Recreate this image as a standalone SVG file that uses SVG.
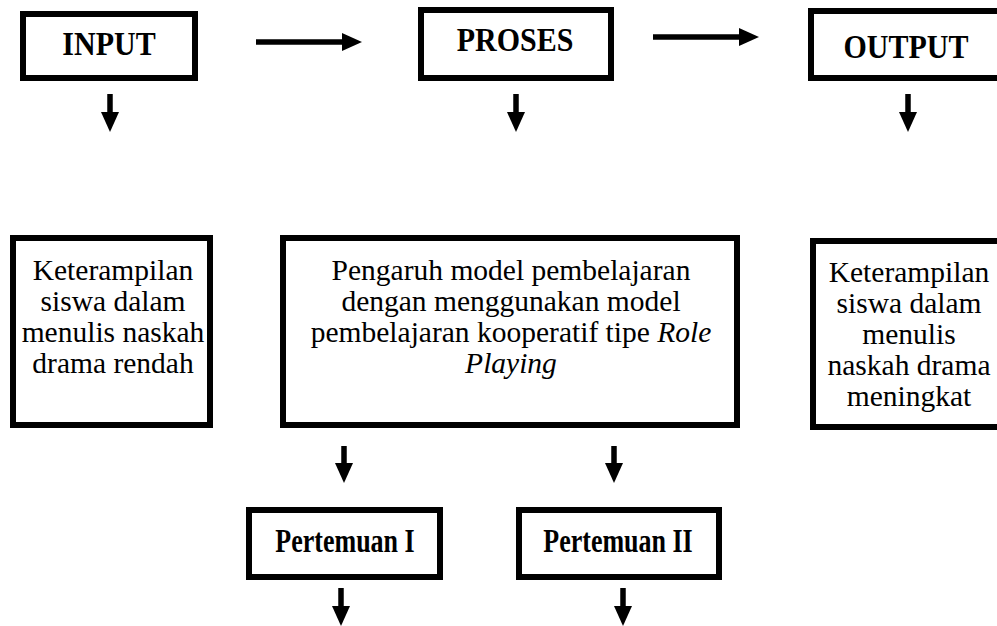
<svg xmlns="http://www.w3.org/2000/svg" width="997" height="626" viewBox="0 0 997 626">
<style>
.box{fill:#fff;stroke:#000;stroke-width:6}
.hd{font-family:"Liberation Serif","Times New Roman",serif;font-weight:bold;font-size:30px;text-anchor:middle;fill:#000}
.pt{font-family:"Liberation Serif","Times New Roman",serif;font-weight:bold;font-size:26px;text-anchor:middle;fill:#000}
.tx{font-family:"Liberation Serif","Times New Roman",serif;font-size:29.5px;text-anchor:middle;fill:#000}
.ar{stroke:#000;stroke-width:5.5;fill:none}
</style>
<defs>
<marker id="ah" markerUnits="userSpaceOnUse" viewBox="0 0 20 20" markerWidth="20" markerHeight="20" refX="1" refY="10" orient="auto">
<path d="M0,1 L20,10 L0,19 Z" fill="#000"/>
</marker>
</defs>
<g id="input">
<rect class="box" x="23" y="14" width="172" height="64"/>
<text class="hd" transform="translate(109,55) scale(1,1.12)">INPUT</text>
</g>
<g id="proses">
<rect class="box" x="421" y="10" width="190" height="68"/>
<text class="hd" transform="translate(515,51) scale(1,1.12)">PROSES</text>
</g>
<g id="output">
<rect class="box" x="811" y="11" width="200" height="67"/>
<text class="hd" transform="translate(906,58) scale(1,1.12)">OUTPUT</text>
</g>
<g id="input-desc">
<rect class="box" x="13" y="238" width="197" height="187"/>
<text class="tx" x="113" y="280">Keterampilan</text>
<text class="tx" x="113" y="311">siswa dalam</text>
<text class="tx" x="113" y="342">menulis naskah</text>
<text class="tx" x="113" y="373">drama rendah</text>
</g>
<g id="proses-desc">
<rect class="box" x="283" y="238" width="454" height="187"/>
<text class="tx" x="511" y="280">Pengaruh model pembelajaran</text>
<text class="tx" x="511" y="311">dengan menggunakan model</text>
<text class="tx" x="511" y="342">pembelajaran kooperatif tipe <tspan font-style="italic">Role</tspan></text>
<text class="tx" x="511" y="373" font-style="italic">Playing</text>
</g>
<g id="output-desc">
<rect class="box" x="813" y="241" width="200" height="186"/>
<text class="tx" x="909" y="282">Keterampilan</text>
<text class="tx" x="909" y="313">siswa dalam</text>
<text class="tx" x="909" y="344">menulis</text>
<text class="tx" x="909" y="375">naskah drama</text>
<text class="tx" x="909" y="406">meningkat</text>
</g>
<g id="pertemuan1">
<rect class="box" x="249" y="510" width="191" height="67"/>
<text class="pt" transform="translate(345,552) scale(1,1.3)">Pertemuan I</text>
</g>
<g id="pertemuan2">
<rect class="box" x="519" y="510" width="200" height="67"/>
<text class="pt" transform="translate(618,552) scale(1,1.3)">Pertemuan II</text>
</g>
<g id="connectors">
<line class="ar" x1="256" y1="42" x2="343" y2="42" marker-end="url(#ah)"/>
<line class="ar" x1="653" y1="37" x2="740" y2="37" marker-end="url(#ah)"/>
<line class="ar" x1="110" y1="94" x2="110" y2="113" marker-end="url(#ah)"/>
<line class="ar" x1="516" y1="94" x2="516" y2="113" marker-end="url(#ah)"/>
<line class="ar" x1="908" y1="94" x2="908" y2="113" marker-end="url(#ah)"/>
<line class="ar" x1="344" y1="446" x2="344" y2="464" marker-end="url(#ah)"/>
<line class="ar" x1="614" y1="446" x2="614" y2="464" marker-end="url(#ah)"/>
<line class="ar" x1="341" y1="588" x2="341" y2="607" marker-end="url(#ah)"/>
<line class="ar" x1="623" y1="588" x2="623" y2="607" marker-end="url(#ah)"/>
</g>
</svg>
